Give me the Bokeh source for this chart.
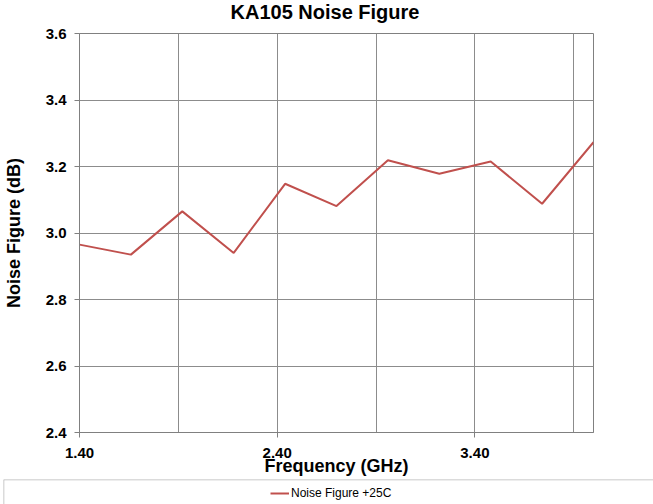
from bokeh.plotting import figure
from bokeh.models import Range1d, FixedTicker, PrintfTickFormatter, Legend, Label, Span
from bokeh.embed import file_html
from bokeh.resources import INLINE

# ---- data ----
freq = [1.40, 1.66, 1.92, 2.18, 2.44, 2.70, 2.96, 3.22, 3.48, 3.74, 4.00]
noise_fig = [2.965, 2.935, 3.065, 2.940, 3.148, 3.081, 3.219, 3.178, 3.215, 3.088, 3.273]
x_tick_values = [1.4, 2.4, 3.4]
x_grid_values = [1.4, 1.9, 2.4, 2.9, 3.4, 3.9]
y_tick_values = [2.4, 2.6, 2.8, 3.0, 3.2, 3.4, 3.6]
title_text = "KA105 Noise Figure"
x_label = "Frequency (GHz)"
y_label = "Noise Figure (dB)"
series_name = "Noise Figure +25C"

FONT = "Liberation Sans"
RED = "#C0504D"
GRID = "#8c8c8c"
FRAME = "#808080"
BOX = "#b8b8b8"

# ---- title strip (top root) ----
head = figure(width=653, height=25, output_backend="svg", toolbar_location=None,
              x_range=Range1d(0, 1), y_range=Range1d(0, 1),
              x_axis_location=None, y_axis_location=None, min_border=0)
head.grid.visible = False
head.outline_line_color = None
head.add_layout(Label(x=230, y=13.5, x_units="screen", y_units="screen",
                      text=title_text, text_font=FONT, text_font_size="20px",
                      text_font_style="bold", text_color="#000000",
                      text_baseline="alphabetic", text_align="left"))

# ---- main chart ----
p = figure(width=653, height=454, output_backend="svg", toolbar_location=None,
           x_range=Range1d(1.4, 4.0), y_range=Range1d(2.4, 3.6),
           min_border_left=78, min_border_right=60,
           min_border_top=8, min_border_bottom=47)

main_line = p.line(freq, noise_fig, line_color=RED, line_width=2)

p.xaxis.ticker = FixedTicker(ticks=x_tick_values, minor_ticks=[])
p.xaxis.formatter = PrintfTickFormatter(format="%.2f")
p.xgrid.ticker = FixedTicker(ticks=x_grid_values)
p.yaxis.ticker = FixedTicker(ticks=y_tick_values, minor_ticks=[])
p.yaxis.formatter = PrintfTickFormatter(format="%.1f")

p.xaxis.axis_label = x_label
p.yaxis.axis_label = y_label

for ax in (p.xaxis, p.yaxis):
    ax.minor_tick_line_color = None
    ax.major_tick_in = 0
    ax.major_tick_out = 5
    ax.axis_line_color = FRAME
    ax.major_tick_line_color = FRAME
    ax.major_label_text_font = FONT
    ax.major_label_text_font_style = "bold"
    ax.major_label_text_font_size = "15px"
    ax.major_label_text_color = "#000000"
    ax.axis_label_text_font = FONT
    ax.axis_label_text_font_style = "bold"
    ax.axis_label_text_font_size = "18px"
    ax.axis_label_text_color = "#000000"

p.xaxis.major_label_standoff = 10
p.yaxis.major_label_standoff = 8
p.xaxis.axis_label_standoff = -5
p.yaxis.axis_label_text_line_height = 1.0
p.yaxis.axis_label_standoff = 19

p.grid.grid_line_color = GRID
p.grid.grid_line_alpha = 1.0
p.outline_line_color = FRAME
p.outline_line_alpha = 1.0

# ---- legend strip (bottom root) ----
leg = figure(width=653, height=25, output_backend="svg", toolbar_location=None,
             x_range=Range1d(0, 1), y_range=Range1d(0, 1),
             x_axis_location=None, y_axis_location=None,
             min_border_left=3, min_border_right=0, min_border_top=0, min_border_bottom=0)
leg.grid.visible = False
leg.outline_line_color = None
leg.add_layout(Span(location=1, dimension="width", line_color=BOX, line_width=1.5))
leg.add_layout(Span(location=0, dimension="height", line_color=BOX, line_width=1.5))
# same series, drawn outside this strip's ranges so only its legend sample shows
sample = leg.line(freq, noise_fig, line_color=RED, line_width=2)
legend = Legend(items=[(series_name, [sample])], location=(267, 4),
                glyph_width=19, glyph_height=14, label_height=14,
                label_standoff=2, padding=0, margin=0, spacing=0,
                border_line_color=None, background_fill_alpha=0,
                label_text_font=FONT, label_text_font_size="12px",
                label_text_color="#000000")
leg.add_layout(legend)

open("out.html", "w").write(file_html([head, p, leg], INLINE))
